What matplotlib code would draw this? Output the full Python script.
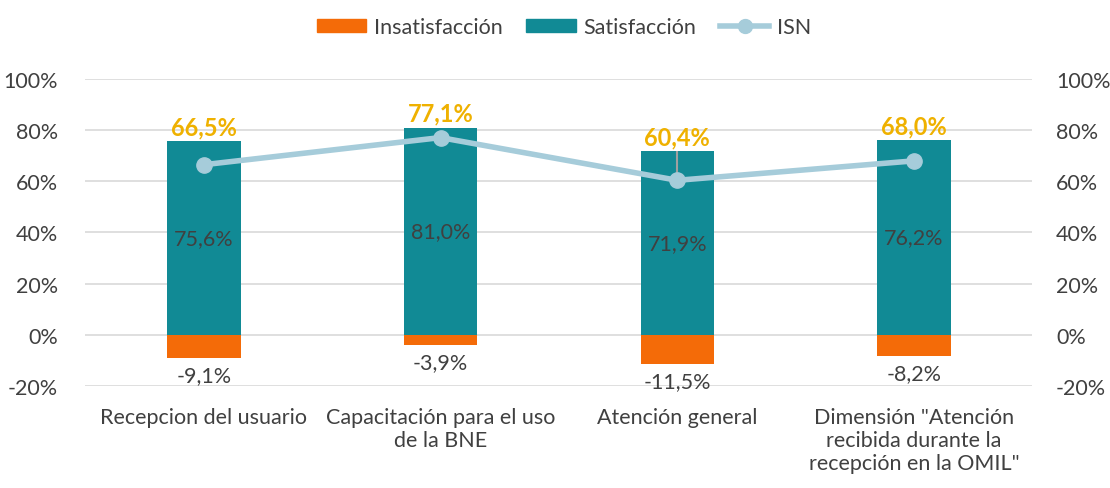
# Satisfaccion / Insatisfaccion / ISN por dimension
import numpy as np
import matplotlib.pyplot as plt
from matplotlib.lines import Line2D
from matplotlib.patches import Patch

plt.rcParams['font.family'] = ['Lato', 'DejaVu Sans']

# Data
categorias = ['Recepcion del usuario',
              'Capacitación para el uso\nde la BNE',
              'Atención general',
              'Dimensión "Atención\nrecibida durante la\nrecepción en la OMIL"']
satisfaccion = [75.6, 81.0, 71.9, 76.2]
insatisfaccion = [-9.1, -3.9, -11.5, -8.2]
isn = [66.5, 77.1, 60.4, 68.0]

c_orange = '#F46B08'
c_teal = '#118A95'
c_line = '#A6CCDA'
c_gold = '#EFB100'
c_text = '#404040'
c_grid = '#D9D9D9'

def fmt(v):
    return ('%.1f%%' % v).replace('.', ',')

fig = plt.figure(figsize=(11.1, 4.89), dpi=100)
ax = fig.add_axes([0.077, 0.2086, 0.853, 0.6278])
x = np.arange(len(categorias))
w = 0.31

ax.bar(x, satisfaccion, w, color=c_teal, zorder=2)
ax.bar(x, insatisfaccion, w, color=c_orange, zorder=2)
# drop line on the third category, as in the original
ax.vlines(x[2], isn[2], satisfaccion[2], color='#A0A0A0', lw=1.5, zorder=3)
ax.plot(x, isn, color=c_line, lw=4, marker='o', ms=11, zorder=4)

for i in range(len(x)):
    ax.text(x[i], satisfaccion[i] / 2, fmt(satisfaccion[i]), ha='center', va='center',
            fontsize=15.5, color=c_text, zorder=5)
    ax.annotate(fmt(isn[i]), (x[i], satisfaccion[i]), xytext=(0, 2), textcoords='offset points',
                ha='center', va='bottom', fontsize=17, fontweight='bold', color=c_gold, zorder=5)
    ax.annotate(fmt(insatisfaccion[i]), (x[i], insatisfaccion[i]), xytext=(0, -5),
                textcoords='offset points', ha='center', va='top', fontsize=15.5, color=c_text)

ax.set_xlim(-0.5, len(x) - 0.5)
ax.set_ylim(-20, 100)
ax.set_yticks(range(-20, 101, 20))
ax.set_yticklabels(['%d%%' % t for t in range(-20, 101, 20)])
ax.set_xticks(x)
ax.set_xticklabels(categorias)
ax.tick_params(axis='both', length=0, labelsize=15.5, colors=c_text)
ax.tick_params(axis='y', pad=20)
ax.tick_params(axis='x', pad=15)
ax.grid(axis='y', color=c_grid, lw=1.2, zorder=0)
ax.set_axisbelow(True)
for s in ax.spines.values():
    s.set_visible(False)

ax2 = ax.twinx()
ax2.set_ylim(-20, 100)
ax2.set_yticks(range(-20, 101, 20))
ax2.set_yticklabels(['%d%%' % t for t in range(-20, 101, 20)])
ax2.tick_params(axis='y', length=0, labelsize=15.5, colors=c_text, pad=17)
for s in ax2.spines.values():
    s.set_visible(False)

handles = [Patch(color=c_orange), Patch(color=c_teal),
           Line2D([], [], color=c_line, lw=4, marker='o', ms=10)]
fig.legend(handles, ['Insatisfacción', 'Satisfacción', 'ISN'], loc='center',
           bbox_to_anchor=(0.508, 0.943), ncol=3, frameon=False, fontsize=15.5,
           labelcolor=c_text, handlelength=2.3, handleheight=0.55, columnspacing=1.1,
           handletextpad=0.35)

fig.savefig('out.png', dpi=100)
